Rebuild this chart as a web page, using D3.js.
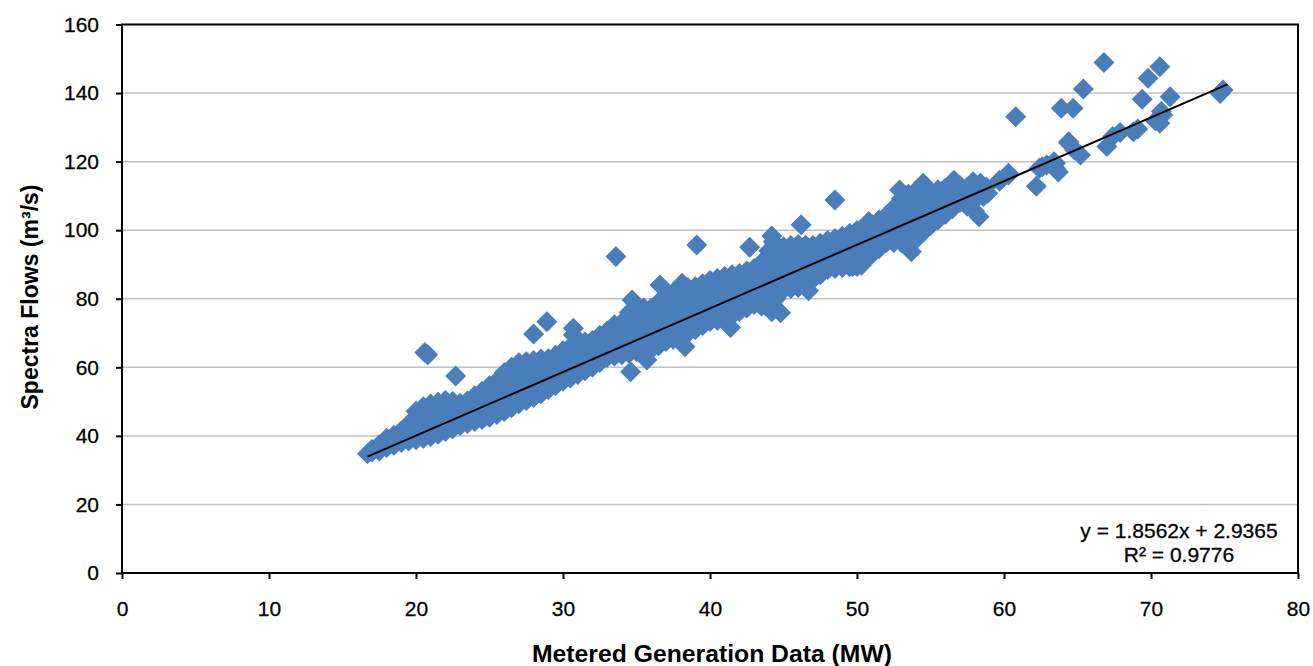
<!DOCTYPE html>
<meta charset="utf-8">
<style>
  body { margin: 0; background: #fff; }
  text { font-family: 'Liberation Sans', Arial, sans-serif; fill: #000; }
  .grid line { stroke: #c0c0c0; stroke-width: 1.5px; }
  .axis path { display: none; }
  .axis line { stroke: #000; stroke-width: 2px; }
  .axis text { font-size: 21px; stroke: #000; stroke-width: 0.3px; }
  .title { font-size: 23px; font-weight: bold; }
  .eq { font-size: 21px; stroke: #000; stroke-width: 0.3px; }
</style>
<body>
<svg id="chart" width="1313" height="666"></svg>
<script src="https://cdnjs.cloudflare.com/ajax/libs/d3/7.8.5/d3.min.js"></script>
<script>
var xTicks = [0, 10, 20, 30, 40, 50, 60, 70, 80];
var yTicks = [0, 20, 40, 60, 80, 100, 120, 140, 160];

// trend line (Excel linear fit)
var trendSlope = 1.8562, trendIntercept = 2.9365;
var trendRange = [16.7, 75.2];
var eqLine1 = "y = 1.8562x + 2.9365";
var eqLine2 = "R² = 0.9776";

// dense band
var band1 = [[16.7,34.8],[17.0,35.3],[17.0,36.0],[17.5,35.6],[17.5,37.4],[18.0,36.6],[18.0,39.3],[18.5,37.3],[18.5,40.2],[19.0,38.1],[19.0,41.4],[19.5,38.5],[19.5,41.5],[19.5,43.5],[20.0,38.9],[20.0,42.0],[20.0,45.2],[20.0,47.2],[20.5,39.3],[20.5,42.4],[20.5,45.5],[20.5,48.5],[21.0,39.8],[21.0,43.0],[21.0,46.2],[21.0,49.3],[21.5,40.5],[21.5,43.6],[21.5,46.8],[21.5,49.8],[22.0,41.3],[22.0,44.3],[22.0,47.3],[22.0,50.3],[22.5,42.1],[22.5,45.0],[22.5,48.0],[22.5,50.0],[23.0,43.0],[23.0,46.2],[23.0,49.5],[23.5,43.6],[23.5,46.8],[23.5,50.2],[24.0,44.2],[24.0,47.5],[24.0,51.7],[24.5,44.8],[24.5,48.0],[24.5,51.2],[24.5,53.0],[25.0,45.4],[25.0,48.6],[25.0,51.8],[25.0,54.6]];

var band2 = [[25.5,46.2],[25.5,49.4],[25.5,52.6],[25.5,56.0],[26.0,47.1],[26.0,50.2],[26.0,53.4],[26.0,56.5],[26.0,58.4],[26.5,48.2],[26.5,51.3],[26.5,54.4],[26.5,57.5],[26.5,60.0],[27.0,49.4],[27.0,52.5],[27.0,55.5],[27.0,58.5],[27.0,61.3],[27.5,50.3],[27.5,53.4],[27.5,56.5],[27.5,59.5],[27.5,61.6],[28.0,51.2],[28.0,54.2],[28.0,57.3],[28.0,60.2],[28.0,62.0],[28.5,52.3],[28.5,55.3],[28.5,58.3],[28.5,61.2],[28.5,62.4],[29.0,53.5],[29.0,56.5],[29.0,59.5],[29.0,62.5],[29.5,54.7],[29.5,57.7],[29.5,60.7],[29.5,63.5],[30.0,55.9],[30.0,58.9],[30.0,61.9],[30.0,64.8],[30.5,56.9],[30.5,59.9],[30.5,62.9],[30.5,65.9],[31.0,57.9],[31.0,60.9],[31.0,63.9],[31.0,66.9],[31.5,59.0],[31.5,62.0],[31.5,64.9],[31.5,67.4],[32.0,60.0],[32.0,63.0],[32.0,65.9],[32.0,67.8],[32.5,61.4],[32.5,64.3],[32.5,67.2],[32.5,69.3],[33.0,62.9],[33.0,65.6],[33.0,68.2],[33.0,70.6],[33.5,63.3],[33.5,66.3],[33.5,69.3],[33.5,72.4],[34.0,63.7],[34.0,66.8],[34.0,70.0],[34.0,73.1],[34.5,64.1],[34.5,67.2],[34.5,70.4],[34.5,73.5],[34.5,76.0],[35.0,64.6],[35.0,67.8],[35.0,71.0],[35.0,74.3],[35.0,77.5]];

var band3 = [[35.5,64.9],[35.5,68.1],[35.5,71.3],[35.5,74.5],[35.5,77.3],[36.0,65.2],[36.0,68.4],[36.0,71.6],[36.0,74.8],[36.0,77.2],[36.5,66.3],[36.5,69.5],[36.5,72.7],[36.5,75.9],[36.5,79.0],[37.0,67.5],[37.0,70.7],[37.0,73.9],[37.0,77.1],[37.0,80.9],[37.5,68.2],[37.5,71.4],[37.5,74.6],[37.5,77.8],[37.5,81.8],[38.0,69.0],[38.0,72.2],[38.0,75.4],[38.0,78.6],[38.0,82.9],[38.5,70.0],[38.5,73.2],[38.5,76.4],[38.5,79.6],[38.5,83.2],[39.0,71.0],[39.0,74.2],[39.0,77.4],[39.0,80.6],[39.0,83.5],[39.5,72.2],[39.5,75.4],[39.5,78.6],[39.5,81.8],[39.5,84.4],[40.0,73.4],[40.0,76.5],[40.0,79.6],[40.0,82.6],[40.0,85.3],[40.5,73.7],[40.5,76.8],[40.5,79.9],[40.5,83.0],[40.5,85.9],[41.0,74.0],[41.0,77.1],[41.0,80.2],[41.0,83.4],[41.0,86.5],[41.5,75.1],[41.5,78.2],[41.5,81.3],[41.5,84.4],[41.5,87.0],[42.0,76.3],[42.0,79.3],[42.0,82.3],[42.0,85.3],[42.0,87.4],[42.5,77.3],[42.5,80.3],[42.5,83.3],[42.5,86.2],[42.5,88.1],[43.0,78.3],[43.0,81.3],[43.0,84.3],[43.0,86.8],[43.0,88.8],[43.5,77.9],[43.5,81.0],[43.5,84.2],[43.5,87.4],[43.5,90.5],[44.0,77.5],[44.0,80.8],[44.0,84.1],[44.0,87.5],[44.0,90.8],[44.0,94.0],[44.5,80.1],[44.5,83.4],[44.5,86.7],[44.5,90.0],[44.5,93.3],[44.5,94.6],[45.0,82.7],[45.0,85.8],[45.0,88.9],[45.0,92.0],[45.0,95.2],[45.5,83.0],[45.5,86.1],[45.5,89.2],[45.5,92.3],[45.5,95.5],[46.0,83.3],[46.0,86.4],[46.0,89.5],[46.0,92.6],[46.0,95.8]];

var band4 = [[46.5,84.5],[46.5,87.5],[46.5,90.5],[46.5,93.5],[46.5,95.6],[47.0,85.6],[47.0,88.6],[47.0,91.6],[47.0,94.5],[47.0,95.5],[47.5,87.0],[47.5,90.0],[47.5,93.0],[47.5,96.2],[48.0,88.5],[48.0,91.4],[48.0,94.3],[48.0,97.0],[48.5,88.8],[48.5,91.8],[48.5,94.8],[48.5,97.6],[49.0,89.1],[49.0,92.1],[49.0,95.1],[49.0,98.2],[49.5,89.3],[49.5,92.5],[49.5,95.7],[49.5,99.0],[50.0,89.4],[50.0,92.8],[50.0,96.3],[50.0,99.9],[50.5,91.2],[50.5,94.6],[50.5,97.8],[50.5,100.8],[51.0,92.9],[51.0,96.0],[51.0,99.0],[51.0,101.7],[51.5,94.6],[51.5,97.6],[51.5,100.6],[51.5,103.0],[52.0,96.4],[52.0,99.1],[52.0,101.8],[52.0,104.3],[52.5,96.4],[52.5,99.7],[52.5,103.0],[52.5,106.5],[53.0,96.4],[53.0,100.0],[53.0,103.6],[53.0,107.2],[53.0,109.2],[53.5,96.8],[53.5,100.3],[53.5,103.8],[53.5,107.4],[53.5,110.5],[54.0,97.3],[54.0,100.8],[54.0,104.2],[54.0,107.8],[54.0,111.4],[54.5,99.4],[54.5,102.5],[54.5,105.6],[54.5,108.7],[54.5,111.6],[55.0,101.4],[55.0,104.6],[55.0,107.8],[55.0,111.0],[55.5,103.0],[55.5,106.0],[55.5,109.0],[55.5,111.8],[56.0,104.6],[56.0,107.2],[56.0,109.8],[56.0,112.2],[56.5,106.3],[56.5,109.0],[56.5,111.5],[57.0,108.1],[57.0,110.6],[57.0,113.0],[57.5,107.0],[57.5,110.0],[57.5,112.5],[58.0,105.5],[58.0,108.7],[58.0,111.5]];

var upperTail = [[58.4,113.7],[58.6,109.8],[58.9,110.8],[58.8,112.6],[59.7,114.3],[59.7,114.6],[60.3,116.1],[60.3,116.6],[60.8,133.1],[62.2,112.8],[62.4,118.1],[62.6,118.5],[62.9,119.0],[63.4,120.0],[63.5,118.1],[63.5,119.5],[63.7,117.0],[63.9,135.6],[64.4,125.4],[64.4,125.8],[64.7,135.6],[64.8,123.4],[65.2,121.9],[65.4,141.2],[66.8,148.9],[67.0,124.4],[67.4,127.3],[67.9,128.5],[68.8,128.7],[69.1,129.5],[69.4,138.2],[69.8,144.3],[70.3,131.9],[70.6,131.2],[70.6,147.7],[70.8,133.6],[70.7,134.6],[71.3,138.9],[74.7,139.9],[74.9,140.9]];

var outliers = [[20.6,64.3],[20.8,63.7],[22.7,57.5],[28.0,69.7],[28.9,73.3],[30.7,71.4],[30.7,69.4],[33.6,92.3],[34.7,79.6],[34.6,58.7],[35.7,62.1],[36.6,84.0],[38.1,84.5],[38.3,66.0],[39.1,95.7],[41.4,71.6],[42.7,95.0],[44.2,98.3],[44.3,96.6],[44.2,76.2],[44.8,75.9],[46.2,101.6],[46.7,82.3],[48.5,108.8],[49.7,89.4],[50.3,89.8],[50.8,102.5],[52.9,111.7],[53.7,93.7],[54.5,113.7],[56.6,114.6],[57.9,114.1],[58.3,103.9]];

var points = band1.concat(band2, band3, band4, upperTail, outliers);

var svg = d3.select("#chart"),
    margin = {top: 24.5, right: 15, bottom: 93, left: 122},
    width = +svg.attr("width") - margin.left - margin.right,
    height = +svg.attr("height") - margin.top - margin.bottom;

var g = svg.append("g").attr("transform", "translate(" + margin.left + "," + margin.top + ")");

var x = d3.scaleLinear().domain([0, 80]).range([0, width]);
var y = d3.scaleLinear().domain([0, 160]).range([height, 0]);

// gridlines
g.append("g").attr("class", "grid")
  .selectAll("line")
  .data(yTicks.slice(1, -1))
  .enter().append("line")
    .attr("x1", 0).attr("x2", width)
    .attr("y1", function(d) { return y(d); })
    .attr("y2", function(d) { return y(d); });

// axes
g.append("g").attr("class", "axis")
  .call(d3.axisLeft(y).tickValues(yTicks).tickSize(6).tickPadding(17));

g.append("g").attr("class", "axis")
  .attr("transform", "translate(0," + height + ")")
  .call(d3.axisBottom(x).tickValues(xTicks).tickSize(6).tickPadding(22));

// markers: square diamonds like Excel
var r = 10.5;
function diamond(d) {
  var cx = x(d[0]), cy = y(d[1]);
  return "M" + cx + "," + (cy - r) + "L" + (cx + r) + "," + cy +
         "L" + cx + "," + (cy + r) + "L" + (cx - r) + "," + cy + "Z";
}

g.append("g")
  .selectAll("path")
  .data(points)
  .enter().append("path")
    .attr("d", diamond)
    .attr("fill", "#4a7ebb");

// trend line
var trend = d3.line()
  .x(function(d) { return x(d); })
  .y(function(d) { return y(trendSlope * d + trendIntercept); });

g.append("path")
  .datum(trendRange)
  .attr("d", trend)
  .attr("fill", "none")
  .attr("stroke", "#000")
  .attr("stroke-width", 2);

// plot frame
g.append("rect")
  .attr("width", width).attr("height", height)
  .attr("fill", "none")
  .attr("stroke", "#000")
  .attr("stroke-width", 2);

// equation
g.append("text").attr("class", "eq")
  .attr("x", 1179 - margin.left).attr("y", 538 - margin.top)
  .attr("text-anchor", "middle")
  .text(eqLine1);
g.append("text").attr("class", "eq")
  .attr("x", 1179 - margin.left).attr("y", 562 - margin.top)
  .attr("text-anchor", "middle")
  .text(eqLine2);

// axis titles
svg.append("text").attr("class", "title")
  .attr("x", 712).attr("y", 662)
  .attr("text-anchor", "middle")
  .attr("textLength", 360)
  .attr("lengthAdjust", "spacingAndGlyphs")
  .style("font-size", "24px")
  .text("Metered Generation Data (MW)");

svg.append("text").attr("class", "title")
  .attr("transform", "translate(38," + 297 + ") rotate(-90)")
  .attr("text-anchor", "middle")
  .text("Spectra Flows (m³/s)");
</script>
</body>
